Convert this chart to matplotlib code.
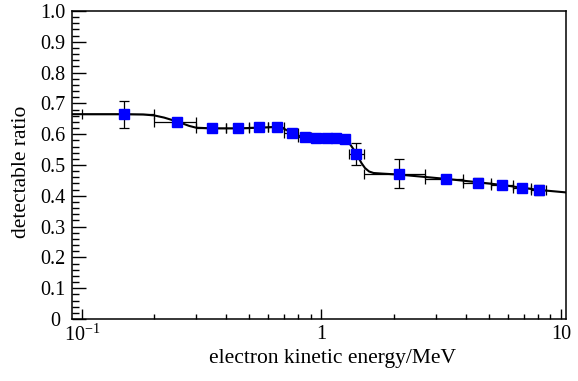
import matplotlib
matplotlib.use("Agg")
import matplotlib.pyplot as plt
from matplotlib.ticker import FixedLocator, FixedFormatter, MultipleLocator, LogLocator, NullFormatter

plt.rcParams['font.family'] = ['Liberation Serif', 'DejaVu Serif']
plt.rcParams['mathtext.fontset'] = 'custom'
plt.rcParams['mathtext.rm'] = 'Liberation Serif'
plt.rcParams['mathtext.it'] = 'Liberation Serif:italic'

# measured points
energy = [0.15, 0.25, 0.35, 0.45, 0.55, 0.65, 0.75, 0.85, 0.95, 1.05, 1.15, 1.25,
          1.4, 2.1, 3.3, 4.5, 5.7, 6.9, 8.1]
energy_err = [0.05, 0.05, 0.05, 0.05, 0.05, 0.05, 0.05, 0.05, 0.05, 0.05, 0.05, 0.05,
              0.1, 0.6, 0.6, 0.6, 0.6, 0.6, 0.6]
ratio = [0.664, 0.641, 0.619, 0.620, 0.622, 0.624, 0.605, 0.592, 0.589, 0.589, 0.589, 0.584,
         0.536, 0.471, 0.455, 0.443, 0.435, 0.426, 0.419]
ratio_err = [0.045, 0.008, 0.006, 0.006, 0.006, 0.006, 0.006, 0.006, 0.006, 0.006, 0.006, 0.006,
             0.035, 0.047, 0.012, 0.015, 0.010, 0.012, 0.015]

# fitted / model curve
curve_e = [0.091, 0.12, 0.15, 0.18, 0.20, 0.22, 0.25, 0.28, 0.30, 0.35, 0.45, 0.55, 0.65,
           0.68, 0.72, 0.75, 0.80, 0.85, 0.95, 1.05, 1.15, 1.22, 1.27, 1.32, 1.37, 1.42,
           1.47, 1.52, 1.58, 1.65, 1.8, 2.1, 3.3, 4.5, 5.7, 6.9, 8.1, 10.5]
curve_r = [0.665, 0.665, 0.665, 0.664, 0.661, 0.654, 0.641, 0.627, 0.621, 0.619, 0.619, 0.621, 0.624,
           0.622, 0.612, 0.604, 0.595, 0.592, 0.590, 0.589, 0.588, 0.586, 0.580, 0.566, 0.548, 0.527,
           0.506, 0.490, 0.479, 0.474, 0.472, 0.469, 0.455, 0.444, 0.435, 0.426, 0.419, 0.411]

ytick_vals = [0, 0.1, 0.2, 0.3, 0.4, 0.5, 0.6, 0.7, 0.8, 0.9, 1.0]
ytick_labels = ["0 ", "0.1", "0.2", "0.3", "0.4", "0.5", "0.6", "0.7", "0.8", "0.9", "1.0"]
xtick_vals = [0.1, 1, 10]
xtick_labels = [r"$10^{-1}$", "1", "10"]

fig = plt.figure(figsize=(5.78, 3.81), dpi=100)
ax = fig.add_axes([72/578, 1 - 319/381, (566 - 72)/578, (319 - 11)/381])

ax.plot(curve_e, curve_r, color='black', lw=1.5, zorder=2)
ax.errorbar(energy, ratio, xerr=energy_err, yerr=ratio_err, fmt='s', color='#0000ff',
            mfc='#0000ff', mec='#0000ff', ms=7.5, ecolor='black', elinewidth=0.9,
            capsize=3.5, capthick=0.9, zorder=3)

ax.set_xscale('log')
ax.set_xlim(0.0908, 10.5)
ax.set_ylim(0, 1.0)

ax.xaxis.set_major_locator(FixedLocator(xtick_vals))
ax.xaxis.set_major_formatter(FixedFormatter(xtick_labels))
ax.xaxis.set_minor_locator(LogLocator(base=10, subs=[2, 3, 4, 5, 6, 7, 8, 9]))
ax.xaxis.set_minor_formatter(NullFormatter())
ax.yaxis.set_major_locator(FixedLocator(ytick_vals))
ax.yaxis.set_major_formatter(FixedFormatter(ytick_labels))
ax.yaxis.set_minor_locator(MultipleLocator(0.02))

ax.tick_params(axis='both', which='both', direction='in', top=False, right=False,
               labelsize=14.5, width=1.0, color='black')
ax.tick_params(axis='y', which='major', length=10, pad=4.5)
ax.tick_params(axis='y', which='minor', length=5)
ax.tick_params(axis='x', which='major', length=7, pad=4)
ax.tick_params(axis='x', which='minor', length=3.5)
for s in ax.spines.values():
    s.set_linewidth(1.1)

fig.text(333/578, 1 - 358/381, "electron kinetic energy/MeV", ha='center', va='center', fontsize=15.5)
fig.text(22/578, 1 - 172/381, "detectable ratio", ha='center', va='center', rotation=90, fontsize=15.5)

fig.savefig("out.png", dpi=100)
